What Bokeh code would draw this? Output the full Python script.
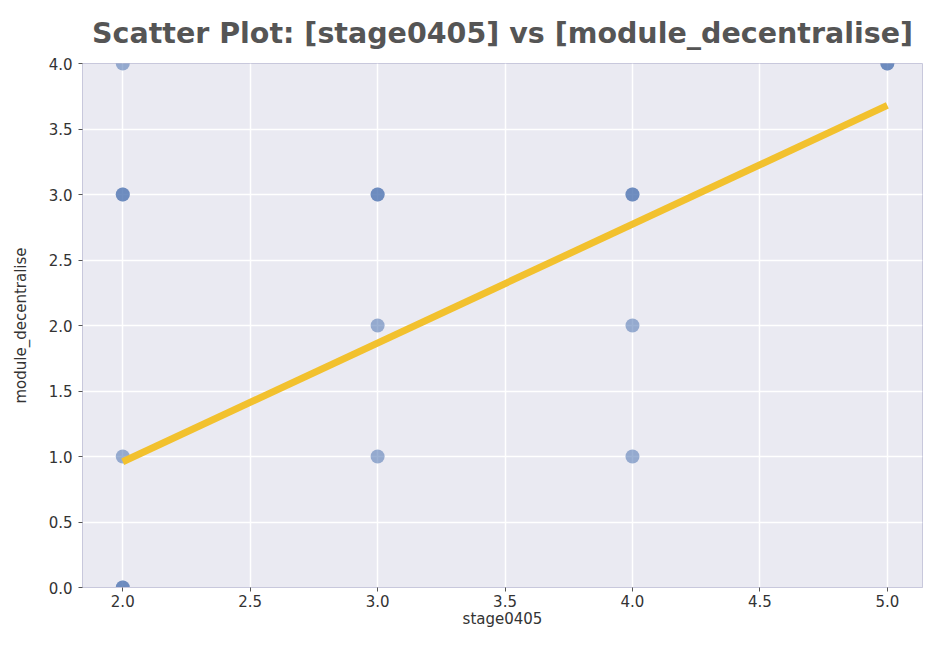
from bokeh.plotting import figure
from bokeh.models import Range1d, FixedTicker, PrintfTickFormatter
from bokeh.embed import file_html
from bokeh.resources import INLINE

# data (duplicates drawn as overlapping points)
stage0405 = [2, 2, 2, 2, 2, 2, 3, 3, 3, 3, 4, 4, 4, 4, 5, 5]
module_decentralise = [4, 3, 3, 1, 0, 0, 3, 3, 2, 1, 3, 3, 2, 1, 4, 4]
# regression line endpoints
reg_x = [2.0, 5.0]
reg_y = [0.96, 3.68]
x_ticks = [2.0, 2.5, 3.0, 3.5, 4.0, 4.5, 5.0]
y_ticks = [0.0, 0.5, 1.0, 1.5, 2.0, 2.5, 3.0, 3.5, 4.0]

p = figure(width=924, height=630, output_backend="svg", toolbar_location=None,
           x_range=Range1d(1.842, 5.138), y_range=Range1d(0, 4),
           min_border_left=82, min_border_right=2, min_border_top=63, min_border_bottom=43,
           title="Scatter Plot: [stage0405] vs [module_decentralise]")

p.title.text_font = "DejaVu Sans"
p.title.text_font_size = "28.5px"
p.title.text_font_style = "bold"
p.title.text_color = "#555555"
p.title.align = "center"
p.title.offset = 0
p.title.standoff = 28

p.background_fill_color = "#EAEAF2"
p.border_fill_color = "white"
p.outline_line_color = "#C8C8DC"
p.outline_line_width = 1

p.xgrid.grid_line_color = "white"
p.ygrid.grid_line_color = "white"
p.xgrid.grid_line_width = 1.5
p.ygrid.grid_line_width = 1.5

for ax in (p.xaxis, p.yaxis):
    ax.axis_line_color = "#C8C8DC"
    ax.major_tick_line_color = "#555555"
    ax.major_tick_out = 4
    ax.major_tick_in = 0
    ax.minor_tick_line_color = None
    ax.major_label_text_font = "DejaVu Sans"
    ax.major_label_text_font_size = "15px"
    ax.major_label_text_color = "#333333"
    ax.axis_label_text_font = "DejaVu Sans"
    ax.axis_label_text_font_size = "15px"
    ax.axis_label_text_font_style = "normal"
    ax.axis_label_text_color = "#333333"
    ax.formatter = PrintfTickFormatter(format="%.1f")

p.xaxis.ticker = FixedTicker(ticks=x_ticks)
p.yaxis.ticker = FixedTicker(ticks=y_ticks)
p.xaxis.axis_label = "stage0405"
p.yaxis.axis_label = "module_decentralise"
p.xaxis.major_label_standoff = 3
p.yaxis.major_label_standoff = 6
p.xaxis.axis_label_standoff = 0
p.yaxis.axis_label_standoff = 16

p.scatter(stage0405, module_decentralise, size=14, fill_color="#4C72B0",
          fill_alpha=0.55, line_color=None)
p.line(reg_x, reg_y, line_color="#F2C12E", line_width=7)

open("out.html", "w").write(file_html(p, INLINE))
